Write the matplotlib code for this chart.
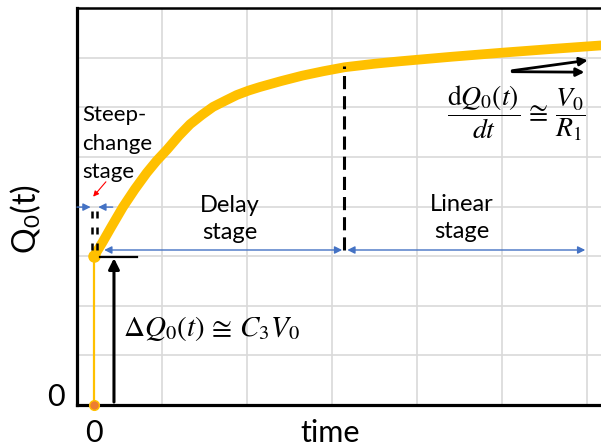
import matplotlib
matplotlib.use("Agg")
import matplotlib.pyplot as plt
from matplotlib.ticker import FixedLocator

# ---- data ----
curve_t = [0.0, 0.10, 0.20, 0.34, 0.48, 0.62, 0.74, 0.86, 1.00, 1.13, 1.27, 1.40, 1.55,
           1.68, 1.82, 1.95, 2.20, 2.45, 2.70, 2.95, 3.30, 3.60, 4.20, 4.78, 5.40, 5.97]
curve_q = [3.00, 3.28, 3.58, 3.99, 4.35, 4.68, 4.93, 5.15, 5.43, 5.66, 5.85, 6.01, 6.14,
           6.25, 6.34, 6.41, 6.53, 6.64, 6.73, 6.81, 6.88, 6.93, 7.02, 7.10, 7.18, 7.25]
jump_t = [0.0, 0.0]
jump_q = [0.0, 3.0]
x_ticks = [0]
x_tick_labels = ["0"]
y_ticks = [0]
y_tick_labels = ["0"]

GOLD = "#FFC000"
BLUE = "#4472C4"
GRID = "#D9D9D9"

plt.rcParams["font.family"] = ["Lato", "DejaVu Sans"]
plt.rcParams["mathtext.fontset"] = "stix"

fig = plt.figure(figsize=(6.01, 4.48), dpi=100)
ax = fig.add_axes([77 / 601, 43 / 448, 1 - 77 / 601, (405 - 8.2) / 448])
ax.set_xlim(-0.2, 5.965)
ax.set_ylim(0, 8)

# grid
ax.xaxis.set_minor_locator(FixedLocator([0.8 + k for k in range(6)]))
ax.yaxis.set_minor_locator(FixedLocator([1, 2, 3, 4, 5, 6, 7]))
ax.grid(which="minor", color=GRID, lw=1.2)
ax.set_axisbelow(True)
ax.tick_params(which="both", length=0)
ax.set_xticks(x_ticks)
ax.set_xticklabels([])
ax.set_yticks(y_ticks)
ax.set_yticklabels([])

for s in ["left", "bottom"]:
    ax.spines[s].set_linewidth(2.3)
ax.spines["top"].set_linewidth(1.8)
ax.spines["right"].set_visible(False)

# tick labels / axis labels as text
ax.text(x_ticks[0], -0.57, x_tick_labels[0], ha="center", va="center", fontsize=22)
ax.text(-0.45, y_ticks[0] + 0.17, y_tick_labels[0], ha="center", va="center", fontsize=22)
fig.text(330 / 601, 1 - 433 / 448, "time", ha="center", va="center", fontsize=22)
fig.text(26 / 601, 1 - 219 / 448, r"Q$_\mathregular{0}$(t)", ha="center", va="center",
         fontsize=23, rotation=90)

# curve
ax.plot(jump_t, jump_q, color=GOLD, lw=1.6, zorder=3)
ax.plot(curve_t, curve_q, color=GOLD, lw=7, solid_capstyle="round",
        solid_joinstyle="round", zorder=4)
ax.plot([jump_t[1]], [jump_q[1]], "o", color=GOLD, ms=8, zorder=5)
ax.plot([jump_t[0]], [jump_q[0]], "o", color="#ED7D31", mec=GOLD, ms=7, zorder=6, clip_on=False)

# dashed separators
ax.plot([2.94, 2.94], [3.13, 6.83], color="black", lw=2.2, linestyle=(0, (4.3, 2.3)), zorder=5)
for xx in (-0.025, 0.03):
    ax.plot([xx, xx], [3.12, 4.02], color="black", lw=1.8, linestyle=(0, (2.8, 3.6)), zorder=5)

# blue stage arrows
bl = dict(color=BLUE, lw=1.0, shrinkA=0, shrinkB=0, mutation_scale=11)
ax.annotate("", xy=(-0.04, 3.99), xytext=(-0.2, 3.99), arrowprops=dict(arrowstyle="-|>", **bl))
ax.annotate("", xy=(0.05, 3.99), xytext=(0.22, 3.99), arrowprops=dict(arrowstyle="-|>", **bl))
ax.annotate("", xy=(2.92, 3.125), xytext=(0.12, 3.125), arrowprops=dict(arrowstyle="<|-|>", **bl))
ax.annotate("", xy=(5.78, 3.125), xytext=(2.98, 3.125), arrowprops=dict(arrowstyle="<|-|>", **bl))

# red pointer
ax.annotate("", xy=(-0.01, 4.2), xytext=(0.14, 4.5),
            arrowprops=dict(arrowstyle="-|>", color="red", lw=0.8, shrinkA=0, shrinkB=0,
                            mutation_scale=8))

# black delta-Q marker
ax.plot([0.07, 0.51], [2.98, 2.98], color="black", lw=1.6, zorder=5)
ax.annotate("", xy=(0.235, 2.96), xytext=(0.235, 0.06),
            arrowprops=dict(arrowstyle="-|>", color="black", lw=2.2, shrinkA=0, shrinkB=0,
                            mutation_scale=16))

# slope arrows
sl = dict(color="black", lw=2.0, shrinkA=0, shrinkB=0, mutation_scale=12)
ax.annotate("", xy=(5.81, 6.95), xytext=(4.92, 6.74), arrowprops=dict(arrowstyle="-|>", **sl))
ax.annotate("", xy=(5.77, 6.71), xytext=(4.92, 6.72), arrowprops=dict(arrowstyle="-|>", **sl))

# texts
ax.text(-0.135, 5.27, "Steep-\nchange\nstage", ha="left", va="center", fontsize=16,
        linespacing=1.55)
ax.text(1.6, 3.75, "Delay\nstage", ha="center", va="center", fontsize=17, linespacing=1.35)
ax.text(4.33, 3.77, "Linear\nstage", ha="center", va="center", fontsize=17, linespacing=1.35)
ax.text(0.34, 1.55, r"$\Delta Q_0(t)\,\cong\,C_3V_0$", ha="left", va="center", fontsize=21)
ax.text(4.96, 5.87, r"$\dfrac{\mathrm{d}Q_0(t)}{dt}\,\cong\,\dfrac{V_0}{R_1}$",
        ha="center", va="center", fontsize=20)

fig.savefig("out.png", dpi=100)
